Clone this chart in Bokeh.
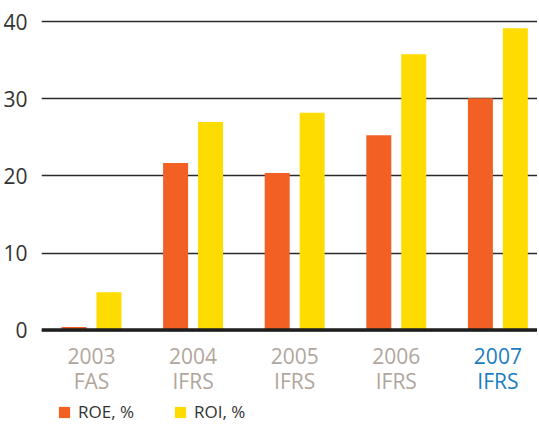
from bokeh.plotting import figure
from bokeh.models import FixedTicker, Range1d, Span, Legend, LegendItem, ColumnDataSource
from bokeh.transform import dodge
from bokeh.embed import file_html
from bokeh.resources import INLINE

years = ["2003", "2004", "2005", "2006", "2007"]
standards = ["FAS", "IFRS", "IFRS", "IFRS", "IFRS"]
roe = [0.4, 21.7, 20.4, 25.3, 30.1]
roi = [4.9, 27.0, 28.2, 35.8, 39.2]
y_ticks = [0, 10, 20, 30, 40]
series_names = ["ROE, %", "ROI, %"]

FONT = "Open Sans"
ORANGE = "#F26024"
YELLOW = "#FFDC00"
GREY = "#B1A69C"
BLUE = "#1B7DC2"
DARK = "#333333"

xs = list(range(len(years)))
src = ColumnDataSource(dict(x=xs, roe=roe, roi=roi))
lab_src = ColumnDataSource(dict(
    x=xs, y=[0] * len(xs),
    text=[f"{a}\n{b}" for a, b in zip(years, standards)],
    color=[GREY] * (len(xs) - 1) + [BLUE]))

p = figure(frame_width=496, frame_height=424, output_backend="svg", toolbar_location=None,
           x_range=Range1d(-0.492, 4.39), y_range=Range1d(-12.27, 42.79),
           min_border_left=34, min_border_right=0, min_border_top=0, min_border_bottom=0)
p.outline_line_color = None
p.background_fill_color = "white"

r1 = p.vbar(x=dodge("x", -0.172, range=p.x_range), top="roe", width=0.246, source=src,
            fill_color=ORANGE, line_color=None)
r2 = p.vbar(x=dodge("x", 0.172, range=p.x_range), top="roi", width=0.246, source=src,
            fill_color=YELLOW, line_color=None)

p.text(x="x", y="y", text="text", source=lab_src, text_color="color",
       text_align="center", text_baseline="top", y_offset=12,
       text_font_size="21px", text_line_height=0.9, text_font={"value": FONT})

# y axis
p.yaxis.ticker = FixedTicker(ticks=y_ticks)
p.yaxis.axis_line_color = None
p.yaxis.major_tick_line_color = None
p.yaxis.minor_tick_line_color = None
p.yaxis.major_label_text_font = FONT
p.yaxis.major_label_text_font_size = "21px"
p.yaxis.major_label_text_color = DARK
p.yaxis.major_label_standoff = 8
p.xaxis.visible = False

p.ygrid.ticker = FixedTicker(ticks=y_ticks)
p.ygrid.grid_line_color = "#2a2a2a"
p.ygrid.grid_line_width = 1.5
p.xgrid.grid_line_color = None

p.add_layout(Span(location=0, dimension="width", line_color="#1e1e1e", line_width=3.5))

legend = Legend(items=[LegendItem(label=series_names[0], renderers=[r1]),
                       LegendItem(label=series_names[1], renderers=[r2])],
                orientation="horizontal", location=(16, 1),
                glyph_width=14, glyph_height=14, label_standoff=7, spacing=39,
                label_text_font=FONT, label_text_font_size="17px", label_text_color=DARK,
                padding=0, margin=0, border_line_color=None, background_fill_alpha=0)
p.add_layout(legend)

open("out.html", "w").write(file_html(p, INLINE))
